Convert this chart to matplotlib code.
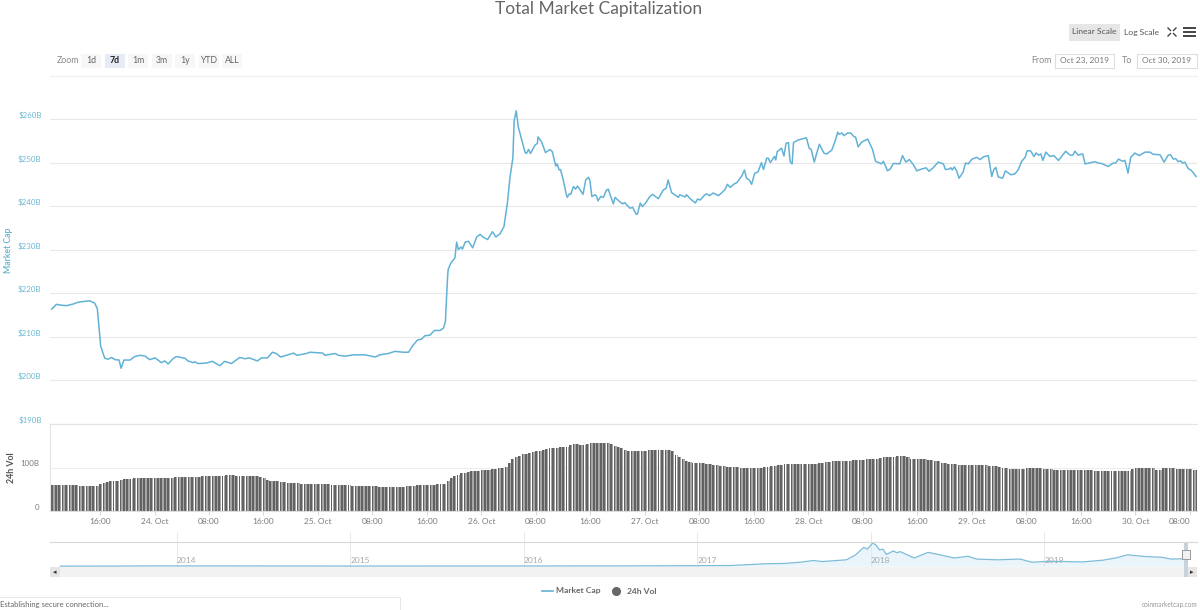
import numpy as np
from matplotlib import pyplot as plt
from matplotlib.patches import Rectangle

plt.rcParams['font.family'] = ['Lato', 'DejaVu Sans']

# hours since 23 Oct 2019 00:00, market cap in $B
cap_hours = [8.9, 9.6, 10.4, 11.1, 12.1, 12.8, 13.8, 14.5, 15.2, 15.6, 15.8, 16.1, 16.7, 17.2, 17.7, 18.2, 18.8, 19.1, 19.5, 20.4,
             21.1, 21.9, 22.6, 23.3, 24.1, 25.0, 25.5, 26.0, 26.7, 27.2, 28.5, 28.9, 29.7, 29.9, 30.4, 31.6, 32.5, 33.6, 34.3, 35.3,
             36.5, 37.3, 37.9, 39.1, 39.7, 40.6, 41.3, 41.9, 42.5, 43.6, 44.4, 44.9, 46.3, 46.8, 48.7, 49.0, 50.5, 51.0, 52.0, 53.2,
             54.9, 56.4, 57.1, 58.3, 59.3, 60.5, 61.3, 61.9, 62.6, 63.2, 63.7, 64.4, 65.1, 65.9, 66.4, 66.7, 67.0,
             67.1, 67.5, 68.1, 68.35, 68.6, 69.0, 69.2, 69.6, 70.1, 70.7, 71.3, 71.8, 72.2, 72.9, 73.6, 74.1, 74.7, 75.3, 75.8, 76.2,
             76.6, 76.8, 77.1, 77.4, 77.65, 78.4, 78.6, 78.9, 79.2, 79.85, 80.2, 80.3, 80.8, 81.4, 82.05, 82.4, 82.9, 83.1, 83.4, 83.6,
             84.0, 84.4, 84.6, 84.9, 85.1, 85.5, 85.8, 86.1, 86.9, 87.3, 87.7, 87.9, 88.2, 88.7, 88.9, 89.1, 89.5, 89.9, 90.3, 90.6,
             91.35, 91.6, 92.3, 92.7, 93.0, 93.8, 94.2, 94.7, 94.9, 95.3, 95.6, 96.1, 96.7, 97.1, 97.95, 98.7, 99.1, 99.4, 99.9, 100.9,
             101.1, 101.9, 102.1, 102.7, 103.4, 103.7, 104.1, 104.8, 105.05, 105.5, 106.0, 106.8, 107.7, 108.1, 108.5, 109.1, 109.5,
             110.2, 110.6, 110.9, 111.3, 111.65, 112.1, 112.6, 113.1, 113.4, 113.85, 114.1, 114.4, 115.0, 115.2, 115.4, 116.05, 116.4,
             116.7, 117.05, 117.3, 117.6, 117.8, 118.5, 119.0, 119.7, 120.1, 120.4, 120.85, 121.2, 121.6, 122.3, 122.7, 123.1,
             123.4, 123.9, 124.3, 124.5, 124.9, 125.2, 125.75, 126.2, 126.7, 126.9, 127.3, 127.8, 128.7, 129.4, 129.85, 130.7, 131.0,
             131.6, 132.0, 132.45, 133.4, 133.8, 134.3, 134.8, 135.4, 135.9, 136.6, 137.25, 137.7, 138.3, 139.05, 139.8, 140.1, 140.6,
             140.9, 141.1, 141.4, 141.75, 142.1, 142.7, 143.05, 143.45, 144.0, 144.7, 145.2, 145.65, 146.4, 146.9, 147.2, 147.5, 147.85,
             148.5, 148.9, 149.7, 150.3, 150.8, 151.3, 151.8, 152.1, 152.6, 153.1, 153.4, 153.8, 154.1, 154.4, 154.85, 155.45, 156.0,
             156.7, 157.75, 158.4, 158.8, 159.1, 159.6, 160.25, 160.6, 162.05, 162.5, 163.0, 164.0, 164.75, 165.1, 165.5, 166.1, 166.45,
             166.9, 167.3, 167.9, 168.55, 169.4, 170.1, 170.6, 171.6, 172.2, 172.8, 173.15, 173.55, 173.9, 174.3, 174.6, 174.9, 175.25,
             175.75, 176.2, 176.9]
cap_values = [216.4, 217.5, 217.3, 217.2, 217.6, 218.0, 218.2, 218.3, 217.8, 216.6, 213.2, 207.9, 205.1, 204.9, 205.3, 204.8, 204.7, 202.8, 204.7, 204.7,
              205.5, 205.8, 205.6, 204.8, 205.2, 204.1, 204.5, 203.8, 205.0, 205.5, 205.1, 204.5, 204.1, 204.3, 203.9, 204.0, 204.4, 203.4, 204.4, 203.9,
              205.3, 205.0, 205.2, 204.5, 205.2, 205.2, 206.5, 206.2, 205.4, 205.9, 206.3, 205.8, 206.2, 206.5, 206.3, 205.8, 206.2, 205.8, 205.6, 205.9,
              205.9, 205.4, 205.9, 206.2, 206.7, 206.5, 206.5, 208.0, 209.3, 209.5, 210.3, 210.4, 211.5, 211.5, 212.0, 213.5, 223.2,
              225.5, 227.0, 228.2, 231.8, 230.1, 230.7, 230.2, 231.8, 232.0, 230.5, 233.0, 233.6, 233.0, 232.4, 234.2, 233.0, 233.7, 235.4, 240.8, 246.9,
              251.1, 259.8, 262.0, 258.3, 256.8, 252.4, 252.2, 253.1, 252.2, 254.1, 254.5, 256.0, 254.9, 252.4, 253.1, 252.6, 249.3, 249.8, 248.4, 248.5,
              246.1, 243.1, 242.1, 242.9, 242.8, 244.6, 244.0, 244.7, 242.8, 246.1, 246.7, 246.1, 242.3, 242.7, 242.3, 241.3, 242.3, 242.1, 243.7, 244.0,
              240.6, 242.1, 241.1, 240.6, 240.9, 239.6, 239.8, 238.2, 238.3, 240.8, 240.0, 240.8, 242.3, 242.8, 241.8, 243.8, 244.2, 246.1, 243.2, 242.1,
              242.7, 242.2, 242.7, 241.7, 240.8, 241.7, 241.5, 242.7, 242.9, 242.5, 243.1, 242.5, 243.8, 245.1, 244.4, 245.2, 245.5,
              247.0, 248.4, 246.5, 246.1, 245.1, 247.6, 248.0, 250.1, 248.5, 251.1, 251.1, 250.1, 251.5, 250.7, 252.6, 253.4, 251.6,
              254.5, 254.7, 250.3, 249.8, 254.7, 255.3, 255.5, 255.8, 253.4, 253.1, 250.2, 252.2, 254.3, 252.2, 252.1, 252.6,
              252.9, 255.0, 257.1, 256.6, 256.9, 256.3, 256.9, 256.9, 256.0, 256.0, 253.7, 254.8, 255.5, 253.1, 250.4, 249.8, 250.4,
              248.2, 248.6, 249.9, 249.8, 251.7, 250.2, 250.8, 249.6, 248.2, 248.6, 248.9, 248.1, 248.9, 250.2, 249.8, 248.5, 248.6,
              248.9, 248.4, 249.1, 248.2, 246.5, 247.9, 250.0, 249.8, 250.9, 251.3, 250.8, 251.4, 251.7, 246.9, 248.5, 249.0, 246.8,
              246.5, 248.2, 247.3, 247.5, 248.5, 250.4, 251.3, 252.8, 252.8, 251.5, 252.3, 251.8, 252.1, 250.6, 252.5, 251.5, 251.7,
              250.6, 252.7, 251.8, 251.8, 252.7, 251.8, 252.1, 249.8, 250.3, 250.0, 249.9, 249.2, 250.0, 250.0, 250.9, 250.4, 250.6,
              247.7, 251.3, 252.3, 251.7, 252.5, 252.5, 252.0, 251.9, 250.2, 251.8, 251.9, 250.9, 251.0, 250.3, 250.5, 250.0, 250.2,
              248.7, 248.3, 246.9]

# 24h volume in $B, one bar every half hour from 09:00 on 23 Oct
vol_values = [59, 59, 59, 59, 59, 59, 59, 59, 58, 58, 58, 58, 58, 58, 61, 64, 66, 68, 69, 70, 71, 73, 73, 74,
              75, 75, 75, 75, 75, 75, 76, 76, 76, 76, 77, 77, 78, 78, 78, 78, 78, 79, 79, 79, 80, 80, 80, 81,
              81, 81, 81, 82, 82, 82, 81, 81, 81, 81, 80, 80, 80, 79, 75, 71, 70, 69, 68, 67, 66, 65, 65, 64,
              64, 63, 63, 63, 62, 62, 62, 61, 61, 61, 60, 60, 60, 59, 59, 59, 58, 58, 58, 58, 57, 57, 57, 57,
              56, 56, 56, 55, 55, 55, 55, 55, 57, 57, 58, 59, 60, 60, 60, 60, 60, 61, 61, 62, 70, 75, 80, 83,
              87, 88, 90, 91, 92, 93, 94, 94, 95, 96, 97, 98, 98, 101, 110, 120, 125, 127, 130, 131, 133, 135, 137, 138,
              141, 142, 144, 145, 145, 146, 146, 148, 152, 154, 153, 152, 152, 153, 156, 156, 156, 156, 156, 156, 155, 150, 146, 144,
              140, 139, 138, 138, 139, 139, 139, 140, 140, 140, 141, 141, 141, 141, 137, 129, 124, 119, 115, 112, 111, 111, 111, 110,
              109, 108, 106, 105, 104, 103, 102, 102, 101, 101, 100, 100, 100, 100, 100, 100, 100, 101, 102, 103, 104, 105, 106, 107,
              107, 107, 108, 108, 108, 108, 108, 109, 109, 110, 111, 112, 113, 114, 114, 115, 115, 116, 116, 117, 118, 118, 118, 119,
              119, 119, 120, 121, 124, 125, 125, 125, 126, 126, 126, 123, 120, 120, 120, 119, 119, 118, 118, 116, 114, 111, 110, 109,
              108, 107, 106, 106, 105, 105, 105, 105, 105, 105, 105, 104, 104, 104, 101, 99, 98, 97, 97, 97, 97, 97, 98, 98,
              99, 99, 98, 96, 96, 96, 95, 95, 95, 95, 95, 95, 95, 95, 95, 95, 94, 94, 93, 92, 92, 92, 92, 92,
              92, 92, 92, 92, 93, 96, 98, 98, 98, 98, 98, 98, 95, 95, 98, 98, 98, 98, 97, 97, 97, 96, 96, 95,
              95]

# navigator series, whole history
nav_years = [2013.33, 2013.6, 2013.9, 2014.0, 2014.5, 2015.0, 2016.0, 2016.5, 2017.0, 2017.2, 2017.4, 2017.5,
             2017.59, 2017.67, 2017.72, 2017.86, 2017.91, 2017.96, 2017.98, 2018.01, 2018.03, 2018.05, 2018.07,
             2018.09, 2018.13, 2018.15, 2018.17, 2018.25, 2018.33, 2018.4, 2018.48, 2018.56, 2018.61, 2018.73,
             2018.86, 2018.93, 2019.03, 2019.22, 2019.34, 2019.42, 2019.48, 2019.59, 2019.68, 2019.73, 2019.81]
nav_values = [2, 3, 12, 10, 8, 5, 7, 10, 18, 25, 90, 100,
              142, 206, 168, 232, 400, 684, 620, 838, 774, 593, 620,
              426, 555, 490, 529, 297, 503, 413, 297, 361, 258, 232,
              258, 142, 180, 155, 219, 310, 413, 348, 322, 258, 270]
nav_ticks = [2014, 2015, 2016, 2017, 2018, 2019]

cap_ticks = [190, 200, 210, 220, 230, 240, 250, 260]
time_ticks = [16, 24, 32, 40, 48, 56, 64, 72, 80, 88, 96, 104, 112, 120, 128, 136, 144, 152, 160, 168, 176]
time_labels = ['16:00', '24. Oct', '08:00', '16:00', '25. Oct', '08:00', '16:00', '26. Oct', '08:00', '16:00', '27. Oct',
               '08:00', '16:00', '28. Oct', '08:00', '16:00', '29. Oct', '08:00', '16:00', '30. Oct', '08:00']

BLUE = '#62b2d6'
GRID = '#e8e8e8'
TEXT = '#7a7a7a'


def px_axes(fig, left, top, right, bottom):
    return fig.add_axes([left / 1200, 1 - bottom / 610, (right - left) / 1200, (bottom - top) / 610])


fig = plt.figure(figsize=(12, 6.1), dpi=100)

# price pane
ax1 = px_axes(fig, 50, 76, 1197, 424)
ax1.plot(cap_hours, cap_values, color=BLUE, lw=1.1)
ax1.set_xlim(8.66, 177.03)
ax1.set_ylim(190, 270)
ax1.set_yticks(cap_ticks)
ax1.set_yticklabels(['$%dB' % v for v in cap_ticks], color='#6db7d3', fontsize=5.7, va='bottom')
ax1.tick_params(axis='y', length=0, pad=6)
ax1.set_xticks([])
ax1.grid(axis='y', color=GRID, lw=0.8)
for s in ['left', 'right', 'bottom']:
    ax1.spines[s].set_visible(False)
ax1.spines['top'].set_color('#efefef')
ax1.set_ylabel('Market Cap', color='#6db7d3', fontsize=6.2, fontweight='bold')
ax1.yaxis.set_label_coords(-0.032, 0.5)

# volume pane
bar_x = np.arange(9, 177.5, 0.5)
ax2 = px_axes(fig, 50, 424, 1197, 511)
ax2.bar(bar_x, vol_values, width=0.24, color='#626262', linewidth=0)
ax2.bar(bar_x + 0.23, vol_values, width=0.2, color='#a6a6a6', linewidth=0)
ax2.set_xlim(8.66, 177.03)
ax2.set_ylim(0, 200)
ax2.set_yticks([0, 100])
ax2.set_yticklabels(['0', '100B'], color=TEXT, fontsize=5.7, va='bottom')
ax2.tick_params(axis='y', length=0, pad=7.5)
ax2.set_xticks(time_ticks)
ax2.set_xticklabels(time_labels, color=TEXT, fontsize=6)
ax2.get_xticklabels()[-1].set_ha('right')
ax2.tick_params(axis='x', length=3, width=0.7, color='#d8d8d8', pad=2)
ax2.grid(axis='y', color='#eeeeee', lw=0.8)
ax2.set_axisbelow(True)
ax2.spines['right'].set_visible(False)
ax2.spines['top'].set_color('#e4e4e4')
ax2.spines['left'].set_color('#e4e4e4')
ax2.spines['bottom'].set_color('#dddddd')
ax2.set_ylabel('24h Vol', color='#555555', fontsize=6.4, fontweight='bold')
ax2.yaxis.set_label_coords(-0.0296, 0.5)

# navigator
ax3 = px_axes(fig, 50, 542, 1197, 567)
ax3.fill_between(nav_years, nav_values, color='#e9f5fb', lw=0)
ax3.plot(nav_years, nav_values, color='#7fbcd8', lw=0.9)
ax3.set_xlim(2013.27, 2019.88)
ax3.set_ylim(-30, 880)
ax3.set_yticks([])
ax3.set_xticks(nav_ticks)
ax3.set_xticklabels([str(y) for y in nav_ticks], color='#a8a8a8', fontsize=6, ha='left')
ax3.tick_params(axis='x', direction='in', length=25, width=0.6, color='#e4e4e4', pad=-7)
ax3.patch.set_alpha(0)
for s in ['left', 'right', 'bottom']:
    ax3.spines[s].set_visible(False)
ax3.spines['top'].set_color('#d8d8d8')

# page furniture, drawn in pixel coordinates
ui = fig.add_axes([0, 0, 1, 1], zorder=5)
ui.set_xlim(0, 1200)
ui.set_ylim(610, 0)
ui.axis('off')


def box(x0, y0, x1, y1, fc='none', ec='none', lw=0.8):
    ui.add_patch(Rectangle((x0, y0), x1 - x0, y1 - y0, fc=fc, ec=ec, lw=lw))


ui.text(599, 9, 'Total Market Capitalization', ha='center', va='center', fontsize=12.5, color='#666666')

ui.text(57, 60.5, 'Zoom', ha='left', va='center', fontsize=6.3, color='#888888')
zoom_btns = ['1d', '7d', '1m', '3m', '1y', 'YTD', 'ALL']
zoom_x = [81, 105, 128, 152, 175, 199, 222]
for name, x in zip(zoom_btns, zoom_x):
    active = name == '7d'
    box(x, 54, x + 20, 68, fc='#e6ebf5' if active else '#f7f7f7')
    ui.text(x + 10, 60.5, name, ha='center', va='center', fontsize=6.3, color='#222222' if active else '#666666',
            fontweight='bold' if active else 'normal')

box(1069, 24, 1120, 41, fc='#e6e6e6')
ui.text(1094.5, 32, 'Linear Scale', ha='center', va='center', fontsize=6.1, color='#555555')
ui.text(1141.5, 32, 'Log Scale', ha='center', va='center', fontsize=6.1, color='#555555')
for dx, dy in [(-1, -1), (1, -1), (-1, 1), (1, 1)]:
    ui.plot([1172 + dx * 1.5, 1172 + dx * 4], [32 + dy * 1.5, 32 + dy * 4], color='#444444', lw=1)
for y in [28, 32, 36]:
    ui.plot([1184, 1195], [y, y], color='#444444', lw=1.4)

ui.text(1031, 60.5, 'From', ha='left', va='center', fontsize=6.4, color='#888888')
box(1055, 54, 1114, 68, fc='white', ec='#dddddd')
ui.text(1084.5, 60.5, 'Oct 23, 2019', ha='center', va='center', fontsize=6, color='#777777')
ui.text(1122, 60.5, 'To', ha='left', va='center', fontsize=6.4, color='#888888')
box(1137, 54, 1197, 68, fc='white', ec='#dddddd')
ui.text(1167, 60.5, 'Oct 30, 2019', ha='center', va='center', fontsize=6, color='#777777')

# scrollbar under the navigator
box(50, 567, 1197, 577, fc='#f2f2f2')
box(50, 567, 60, 577, fc='#e6e6e6')
box(1187, 567, 1197, 577, fc='#e6e6e6')
ui.text(55, 572, '◂', ha='center', va='center', fontsize=5, color='#333333')
ui.text(1192, 572, '▸', ha='center', va='center', fontsize=5, color='#333333')
box(1184, 543, 1188, 577, fc='#c6d2dc')
box(1182, 550, 1190, 559, fc='#f2f2f2', ec='#999999', lw=0.7)

# legend
ui.plot([542, 553], [591, 591], color=BLUE, lw=1.2)
ui.text(556, 591, 'Market Cap', ha='left', va='center', fontsize=6.1, color='#666666', fontweight='bold')
ui.plot([616], [591], 'o', color='#666666', ms=5.5)
ui.text(627, 591, '24h Vol', ha='left', va='center', fontsize=6.1, color='#666666', fontweight='bold')

ui.plot([0, 400, 400], [597, 597, 610], color='#e8e8e8', lw=0.8)
ui.text(0, 604, 'Establishing secure connection...', ha='left', va='center', fontsize=5.5, color='#666666')
ui.text(1197, 605, 'coinmarketcap.com', ha='right', va='center', fontsize=4.7, color='#999999')

plt.savefig('out.png', dpi=100)
